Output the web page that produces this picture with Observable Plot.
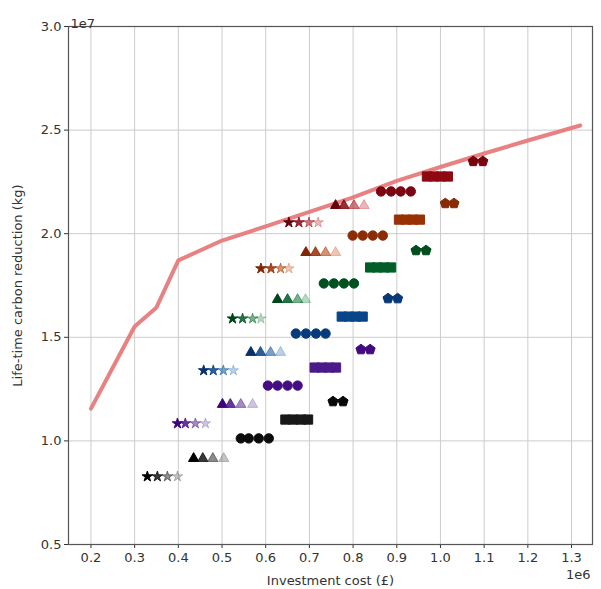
<!DOCTYPE html>
<html>
<head>
<meta charset="utf-8">
<script src="https://cdn.jsdelivr.net/npm/d3@7"></script>
<script src="https://cdn.jsdelivr.net/npm/@observablehq/plot@0.6"></script>
<style>
  html, body { margin: 0; padding: 0; background: #fff; }
  #chart svg { font-family: "DejaVu Sans", sans-serif; }
</style>
</head>
<body>
<div id="chart"></div>
<script>
// ---- data (x in 1e6 £, y in 1e7 kg) ----
const seriesNames = ["Greys", "Purples", "Blues", "Greens", "Oranges", "Reds"];
const shapeNames = ["star", "triangle", "circle", "square", "pentagon"];

const frontierX = [0.2, 0.3, 0.35, 0.4, 0.5, 0.6, 0.7, 0.8, 0.9, 1.0, 1.1, 1.2, 1.32];
const frontierY = [1.156, 1.552, 1.644, 1.871, 1.967, 2.035, 2.105, 2.175, 2.255, 2.322, 2.387, 2.45, 2.522];

const starX = [
  [0.329, 0.352, 0.375, 0.398],
  [0.398, 0.416, 0.439, 0.462],
  [0.458, 0.480, 0.503, 0.526],
  [0.524, 0.547, 0.570, 0.589],
  [0.589, 0.612, 0.634, 0.653],
  [0.653, 0.676, 0.699, 0.720]];
const starY = [0.828, 1.084, 1.340, 1.590, 1.832, 2.054];

const triangleX = [
  [0.435, 0.456, 0.479, 0.504],
  [0.501, 0.519, 0.543, 0.570],
  [0.566, 0.588, 0.611, 0.634],
  [0.627, 0.650, 0.673, 0.691],
  [0.692, 0.714, 0.737, 0.760],
  [0.760, 0.779, 0.802, 0.825]];
const triangleY = [0.915, 1.176, 1.427, 1.682, 1.909, 2.136];

const circleX = [
  [0.543, 0.561, 0.584, 0.607],
  [0.605, 0.627, 0.650, 0.673],
  [0.669, 0.692, 0.715, 0.737],
  [0.733, 0.756, 0.779, 0.802],
  [0.799, 0.822, 0.845, 0.868],
  [0.864, 0.887, 0.909, 0.932]];
const circleY = [1.012, 1.267, 1.518, 1.760, 1.991, 2.204];

const squareX = [
  [0.645, 0.663, 0.681, 0.697],
  [0.712, 0.729, 0.745, 0.761],
  [0.774, 0.790, 0.806, 0.822],
  [0.839, 0.855, 0.871, 0.887],
  [0.905, 0.921, 0.937, 0.953],
  [0.969, 0.985, 1.001, 1.017]];
const squareY = [1.103, 1.354, 1.600, 1.837, 2.068, 2.276];

const pentagonX = [
  [0.754, 0.777],
  [0.818, 0.839],
  [0.880, 0.902],
  [0.944, 0.967],
  [1.011, 1.031],
  [1.075, 1.097]];
const pentagonY = [1.190, 1.441, 1.687, 1.919, 2.146, 2.349];

const xTicks = [0.2, 0.3, 0.4, 0.5, 0.6, 0.7, 0.8, 0.9, 1.0, 1.1, 1.2, 1.3];
const yTicks = [0.5, 1.0, 1.5, 2.0, 2.5, 3.0];

// ---- styling ----
const interp = {
  Greys: d3.interpolateGreys, Purples: d3.interpolatePurples, Blues: d3.interpolateBlues,
  Greens: d3.interpolateGreens, Oranges: d3.interpolateOranges, Reds: d3.interpolateReds
};
// colormap position and opacity of the successive markers of a group
const shadeByShape = {
  star: [1.0, 0.93, 0.86, 0.8],
  triangle: [1.0, 0.93, 0.86, 0.8],
  circle: [0.96, 0.96, 0.96, 0.96],
  square: [0.92, 0.92, 0.92, 0.92],
  pentagon: [0.97, 0.97]
};
const alphaByShape = {
  star: [1, 0.85, 0.55, 0.3],
  triangle: [1, 0.85, 0.55, 0.3],
  circle: [1, 1, 1, 1],
  square: [1, 1, 1, 1],
  pentagon: [1, 1]
};
const xsByShape = {star: starX, triangle: triangleX, circle: circleX, square: squareX, pentagon: pentagonX};
const ysByShape = {star: starY, triangle: triangleY, circle: circleY, square: squareY, pentagon: pentagonY};

const pentagon = {
  draw(context, size) {
    const R = Math.sqrt(size / (2.5 * Math.sin(2 * Math.PI / 5)));
    for (let k = 0; k < 5; ++k) {
      const a = -Math.PI / 2 + k * 2 * Math.PI / 5;
      const px = R * Math.cos(a), py = R * Math.sin(a);
      if (k === 0) context.moveTo(px, py); else context.lineTo(px, py);
    }
    context.closePath();
  }
};
const symbolByShape = {star: "star", triangle: "triangle", circle: "circle", square: "square", pentagon: pentagon};
const rByShape = {star: 3.3, triangle: 3.8, circle: 4.7, square: 5.2, pentagon: 4.6};

const rows = [];
shapeNames.forEach(shape => {
  seriesNames.forEach((s, i) => {
    xsByShape[shape][i].forEach((x, j) => {
      rows.push({
        shape, series: s, x, y: ysByShape[shape][i],
        color: interp[s](shadeByShape[shape][j]),
        alpha: alphaByShape[shape][j]
      });
    });
  });
});

const frontier = frontierX.map((x, i) => ({x, y: frontierY[i]}));

const dotMarks = shapeNames.map(shape =>
  Plot.dot(rows.filter(d => d.shape === shape), {
    x: "x", y: "y", fill: "color", fillOpacity: "alpha",
    stroke: "color", strokeOpacity: "alpha", strokeWidth: 1,
    r: rByShape[shape], symbol: symbolByShape[shape]
  })
);

const chart = Plot.plot({
  width: 601,
  height: 589,
  marginLeft: 68,
  marginRight: 9,
  marginTop: 26,
  marginBottom: 45,
  style: {fontFamily: "DejaVu Sans, sans-serif", fontSize: "13px", color: "#333", background: "#fff"},
  color: {type: "identity"},
  opacity: {type: "identity"},
  x: {
    domain: [0.1486, 1.348],
    ticks: xTicks,
    tickFormat: d3.format(".1f"),
    tickSize: 4,
    tickPadding: 4,
    label: "Investment cost (£)",
    labelAnchor: "center",
    labelOffset: 40,
    labelArrow: "none"
  },
  y: {
    domain: [0.5, 3.0],
    ticks: yTicks,
    tickFormat: d3.format(".1f"),
    tickSize: 4,
    tickPadding: 3,
    label: "Life-time carbon reduction (kg)",
    labelAnchor: "center",
    labelOffset: 56,
    labelArrow: "none"
  },
  marks: [
    Plot.ruleX(xTicks, {stroke: "#cccccc", strokeWidth: 1}),
    Plot.ruleY(yTicks, {stroke: "#cccccc", strokeWidth: 1}),
    Plot.line(frontier, {x: "x", y: "y", stroke: "#e77b7b", strokeWidth: 4, strokeOpacity: 0.95}),
    ...dotMarks,
    Plot.frame({stroke: "#555", strokeWidth: 1.2}),
    Plot.text(["1e7"], {frameAnchor: "top-left", dy: -8, dx: 2, textAnchor: "start", fill: "#333", fontSize: 13}),
    Plot.text(["1e6"], {frameAnchor: "bottom-right", dy: 34, dx: -2, textAnchor: "end", fill: "#333", fontSize: 13})
  ]
});

document.getElementById("chart").appendChild(chart);
</script>
</body>
</html>
